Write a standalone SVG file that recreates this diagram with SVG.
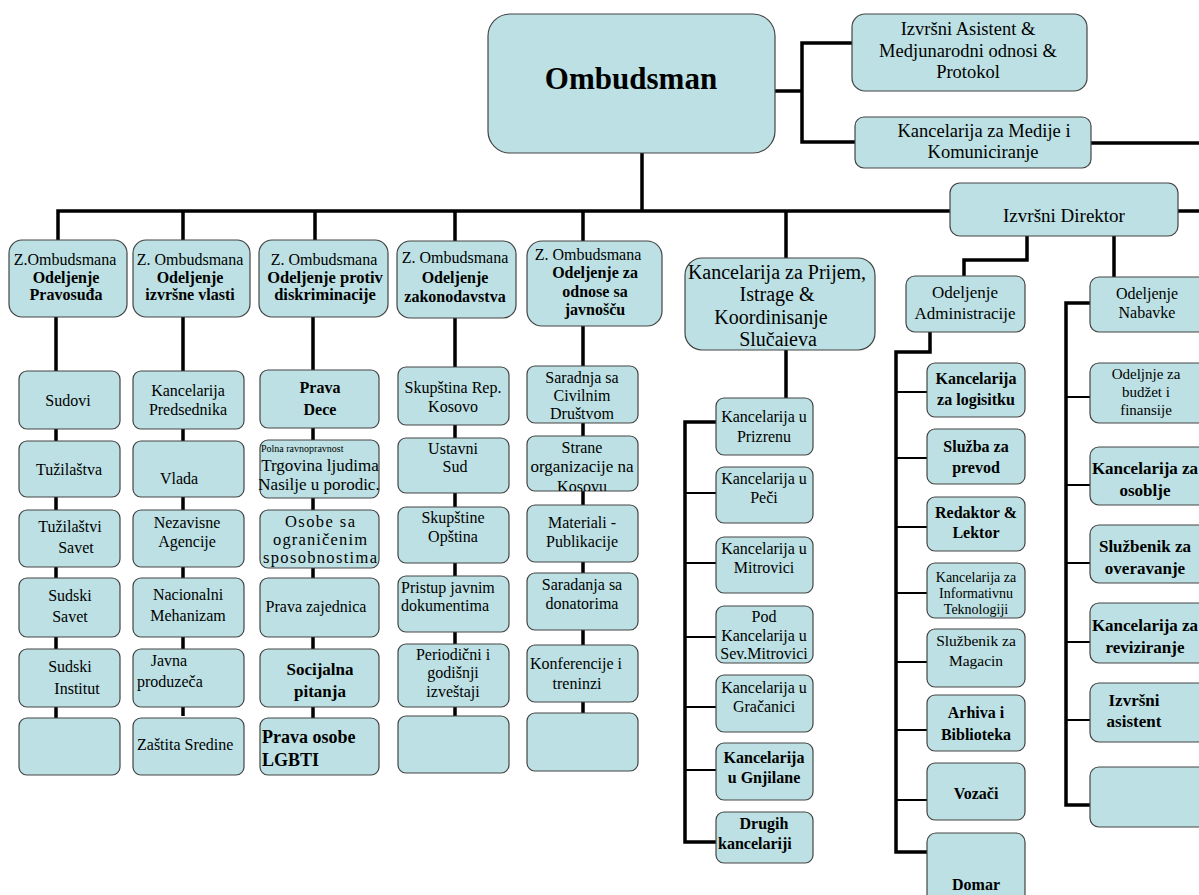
<svg xmlns="http://www.w3.org/2000/svg" width="1199" height="895" viewBox="0 0 1199 895" font-family="'Liberation Serif', 'DejaVu Serif', serif">
<style>
.b{fill:#BCE0E3;stroke:#444;stroke-width:1.2}
text{font-family:'Liberation Serif','DejaVu Serif',serif;font-size:16px;fill:#000;text-anchor:middle}
.bd{font-weight:bold}
.l{text-anchor:start}
.th{fill:none;stroke:#000;stroke-width:3.5}
.tn{fill:none;stroke:#000;stroke-width:1.8}
</style>
<defs>
<clipPath id="c1"><rect x="527" y="436" width="111" height="55"/></clipPath>
</defs>
<g id="connectors">
<path class="th" d="M775 91H802M852 43H802V142H855M1091 143H1199M642 153V211M58 240V211H950M1178 211H1199M183 211V240M315 211V240M455 211V241M583 211V241M786 211V258"/>
<path class="th" d="M56 317V718M183 317V716M313 317V718M455 318V716M583 326V713M786 350V398"/>
<path class="th" d="M716 422H685V842H716"/>
<path class="tn" d="M685 493H716M685 563H716M685 637H716M685 707H716M685 770H716"/>
<path class="th" d="M1027 236V260H964V276M930 332V352H896V852H927"/>
<path class="tn" d="M896 392H927M896 458H927M896 527H927M896 593H927M896 662H927M896 730H927M896 800H927"/>
<path class="th" d="M1114 236V277M1090 303H1066V805H1090"/>
<path class="tn" d="M1066 397H1090M1066 485H1090M1066 563H1090M1066 642H1090M1066 720H1090"/>
</g>
<g id="ombudsman"><rect class="b" x="488" y="14" width="287" height="139" rx="22"/><text x="631" y="89" class="bd" style="font-size:31px">Ombudsman</text></g>
<g id="asistent"><rect class="b" x="852" y="14" width="235" height="77" rx="13"/><text x="968" y="35" style="font-size:18.5px">Izvršni Asistent &amp;</text><text x="968" y="57" style="font-size:18.5px">Medjunarodni odnosi &amp;</text><text x="968" y="78" style="font-size:18.5px">Protokol</text></g>
<g id="medije"><rect class="b" x="855" y="117" width="236" height="51" rx="9"/><text x="984" y="137" style="font-size:18.5px">Kancelarija za Medije i</text><text x="983" y="158" style="font-size:18.5px">Komuniciranje</text></g>
<g id="direktor"><rect class="b" x="950" y="183" width="228" height="53" rx="10"/><text x="1064" y="222" style="font-size:19px">Izvršni Direktor</text></g>

<g id="z1"><rect class="b" x="9" y="240" width="118" height="77" rx="13"/><text x="65" y="265">Z.Ombudsmana</text><text x="66" y="283" class="bd">Odeljenje</text><text x="66" y="300" class="bd">Pravosuđa</text></g>
<g id="z2"><rect class="b" x="133" y="240" width="117" height="77" rx="13"/><text x="190" y="265">Z. Ombudsmana</text><text x="190" y="283" class="bd">Odeljenje</text><text x="190" y="300" class="bd">izvršne vlasti</text></g>
<g id="z3"><rect class="b" x="259" y="240" width="129" height="77" rx="13"/><text x="324" y="265">Z. Ombudsmana</text><text x="325" y="283" class="bd" style="font-size:16.5px">Odeljenje protiv</text><text x="325" y="300" class="bd" style="font-size:16.5px">diskriminacije</text></g>
<g id="z4"><rect class="b" x="397" y="241" width="119" height="77" rx="13"/><text x="455" y="263">Z. Ombudsmana</text><text x="455" y="283" class="bd">Odeljenje</text><text x="455" y="302" class="bd">zakonodavstva</text></g>
<g id="z5"><rect class="b" x="527" y="241" width="135" height="85" rx="15"/><text x="588" y="260">Z. Ombudsmana</text><text x="595" y="278" class="bd">Odeljenje za</text><text x="595" y="297" class="bd">odnose sa</text><text x="595" y="315" class="bd">javnošču</text></g>
<g id="prijem"><rect class="b" x="685" y="258" width="190" height="92" rx="17"/><text x="777" y="279" style="font-size:20px">Kancelarija za Prijem,</text><text x="777" y="301" style="font-size:20px">Istrage &amp;</text><text x="771" y="324" style="font-size:20px">Koordinisanje</text><text x="778" y="346" style="font-size:20px">Slučaieva</text></g>
<g id="admin"><rect class="b" x="906" y="276" width="119" height="56" rx="9"/><text x="965" y="298" style="font-size:17px">Odeljenje</text><text x="965" y="319" style="font-size:17px">Administracije</text></g>
<g id="nabavke"><rect class="b" x="1090" y="277" width="120" height="55" rx="9"/><text x="1147" y="299">Odeljenje</text><text x="1147" y="318">Nabavke</text></g>

<g id="c1-1"><rect class="b" x="19" y="371" width="101" height="58" rx="8"/><text x="68" y="406">Sudovi</text></g>
<g id="c1-2"><rect class="b" x="19" y="441" width="101" height="56" rx="8"/><text x="69" y="475">Tužilaštva</text></g>
<g id="c1-3"><rect class="b" x="19" y="510" width="101" height="57" rx="8"/><text x="70" y="532">Tužilaštvi</text><text x="76" y="553">Savet</text></g>
<g id="c1-4"><rect class="b" x="19" y="578" width="101" height="59" rx="8"/><text x="70" y="601">Sudski</text><text x="70" y="622">Savet</text></g>
<g id="c1-5"><rect class="b" x="19" y="649" width="101" height="58" rx="8"/><text x="70" y="672">Sudski</text><text x="77" y="694">Institut</text></g>
<g id="c1-6"><rect class="b" x="19" y="718" width="101" height="57" rx="8"/></g>

<g id="c2-1"><rect class="b" x="133" y="371" width="111" height="58" rx="8"/><text x="188" y="396">Kancelarija</text><text x="188" y="415">Predsednika</text></g>
<g id="c2-2"><rect class="b" x="133" y="441" width="111" height="56" rx="8"/><text x="179" y="484">Vlada</text></g>
<g id="c2-3"><rect class="b" x="133" y="510" width="111" height="57" rx="8"/><text x="187" y="528">Nezavisne</text><text x="187" y="547">Agencije</text></g>
<g id="c2-4"><rect class="b" x="133" y="578" width="111" height="59" rx="8"/><text x="188" y="600">Nacionalni</text><text x="188" y="621">Mehanizam</text></g>
<g id="c2-5"><rect class="b" x="133" y="649" width="111" height="58" rx="8"/><text x="169" y="666">Javna</text><text x="137" y="687" class="l">produzeča</text></g>
<g id="c2-6"><rect class="b" x="133" y="718" width="111" height="57" rx="8"/><text x="137" y="750" class="l">Zaštita Sredine</text></g>

<g id="c3-1"><rect class="b" x="260" y="370" width="119" height="58" rx="8"/><text x="320" y="393" class="bd">Prava</text><text x="320" y="415" class="bd">Dece</text></g>
<g id="c3-2"><rect class="b" x="260" y="440" width="119" height="58" rx="8"/><text x="261" y="452" class="l" style="font-size:10px">Polna  ravnopravnost</text><text x="320" y="471" style="font-size:17px">Trgovina ljudima</text><text x="319" y="490" style="font-size:17px">Nasilje u porodic.</text></g>
<g id="c3-3"><rect class="b" x="260" y="510" width="119" height="58" rx="8"/><text x="320" y="527" textLength="70" style="font-size:16.5px">Osobe sa</text><text x="320" y="545" textLength="94" style="font-size:16.5px">ograničenim</text><text x="320" y="563" textLength="114" style="font-size:16.5px">sposobnostima</text></g>
<g id="c3-4"><rect class="b" x="260" y="578" width="119" height="59" rx="8"/><text x="316" y="612">Prava  zajednica</text></g>
<g id="c3-5"><rect class="b" x="260" y="649" width="119" height="58" rx="8"/><text x="320" y="675" class="bd" style="font-size:17px">Socijalna</text><text x="320" y="697" class="bd" style="font-size:17px">pitanja</text></g>
<g id="c3-6"><rect class="b" x="260" y="718" width="119" height="57" rx="8"/><text x="262" y="743" class="l bd" style="font-size:18px">Prava osobe</text><text x="262" y="766" class="l bd" style="font-size:18px">LGBTI</text></g>

<g id="c4-1"><rect class="b" x="398" y="367" width="111" height="58" rx="8"/><text x="453" y="393">Skupština Rep.</text><text x="453" y="412">Kosovo</text></g>
<g id="c4-2"><rect class="b" x="398" y="438" width="111" height="55" rx="8"/><text x="453" y="454">Ustavni</text><text x="455" y="472">Sud</text></g>
<g id="c4-3"><rect class="b" x="398" y="507" width="111" height="56" rx="8"/><text x="453" y="523">Skupštine</text><text x="453" y="542">Opština</text></g>
<g id="c4-4"><rect class="b" x="398" y="576" width="111" height="56" rx="8"/><text x="401" y="593" class="l">Pristup javnim</text><text x="401" y="611" class="l">dokumentima</text></g>
<g id="c4-5"><rect class="b" x="398" y="644" width="111" height="63" rx="8"/><text x="453" y="660">Periodični i</text><text x="453" y="678">godišnji</text><text x="453" y="697">izveštaji</text></g>
<g id="c4-6"><rect class="b" x="398" y="716" width="111" height="57" rx="8"/></g>

<g id="c5-1"><rect class="b" x="527" y="366" width="111" height="57" rx="8"/><text x="582" y="383">Saradnja sa</text><text x="582" y="401">Civilnim</text><text x="582" y="419">Društvom</text></g>
<g id="c5-2"><rect class="b" x="527" y="436" width="111" height="55" rx="8"/><text x="582" y="453">Strane</text><text x="582" y="472" style="font-size:17px">organizacije na</text><text x="582" y="492" clip-path="url(#c1)">Kosovu</text></g>
<g id="c5-3"><rect class="b" x="527" y="505" width="111" height="57" rx="8"/><text x="582" y="528">Materiali -</text><text x="582" y="547">Publikacije</text></g>
<g id="c5-4"><rect class="b" x="527" y="573" width="111" height="57" rx="8"/><text x="582" y="590">Saradanja sa</text><text x="582" y="609">donatorima</text></g>
<g id="c5-5"><rect class="b" x="527" y="645" width="111" height="57" rx="8"/><text x="530" y="669" class="l">Konferencije i</text><text x="577" y="689">treninzi</text></g>
<g id="c5-6"><rect class="b" x="527" y="713" width="111" height="58" rx="8"/></g>

<g id="c6-1"><rect class="b" x="716" y="398" width="97" height="57" rx="8"/><text x="764" y="422">Kancelarija u</text><text x="764" y="442">Prizrenu</text></g>
<g id="c6-2"><rect class="b" x="716" y="467" width="97" height="56" rx="8"/><text x="764" y="484">Kancelarija u</text><text x="764" y="503">Peči</text></g>
<g id="c6-3"><rect class="b" x="716" y="537" width="97" height="56" rx="8"/><text x="764" y="554">Kancelarija u</text><text x="764" y="573">Mitrovici</text></g>
<g id="c6-4"><rect class="b" x="716" y="606" width="97" height="57" rx="8"/><text x="764" y="622">Pod</text><text x="764" y="641">Kancelarija u</text><text x="764" y="659">Sev.Mitrovici</text></g>
<g id="c6-5"><rect class="b" x="716" y="675" width="97" height="57" rx="8"/><text x="764" y="693">Kancelarija u</text><text x="764" y="712">Gračanici</text></g>
<g id="c6-6"><rect class="b" x="716" y="743" width="97" height="57" rx="8"/><text x="764" y="763" class="bd">Kancelarija</text><text x="764" y="783" class="bd">u Gnjilane</text></g>
<g id="c6-7"><rect class="b" x="716" y="812" width="97" height="51" rx="8"/><text x="764" y="829" class="bd">Drugih</text><text x="718" y="849" class="l bd">kancelariji</text></g>

<g id="c7-1"><rect class="b" x="927" y="363" width="98" height="54" rx="8"/><text x="976" y="384" class="bd">Kancelarija</text><text x="976" y="405" class="bd">za logisitku</text></g>
<g id="c7-2"><rect class="b" x="927" y="429" width="98" height="55" rx="8"/><text x="976" y="452" class="bd">Služba za</text><text x="976" y="473" class="bd">prevod</text></g>
<g id="c7-3"><rect class="b" x="927" y="497" width="98" height="54" rx="8"/><text x="976" y="518" class="bd">Redaktor &amp;</text><text x="976" y="538" class="bd">Lektor</text></g>
<g id="c7-4"><rect class="b" x="927" y="563" width="98" height="55" rx="8"/><text x="976" y="582" style="font-size:14px">Kancelarija za</text><text x="976" y="598" style="font-size:14px">Informativnu</text><text x="976" y="614" style="font-size:14px">Teknologiji</text></g>
<g id="c7-5"><rect class="b" x="927" y="629" width="98" height="58" rx="8"/><text x="976" y="646" style="font-size:15.5px">Službenik za</text><text x="976" y="666" style="font-size:15.5px">Magacin</text></g>
<g id="c7-6"><rect class="b" x="927" y="695" width="98" height="56" rx="8"/><text x="976" y="718" class="bd">Arhiva i</text><text x="976" y="740" class="bd">Biblioteka</text></g>
<g id="c7-7"><rect class="b" x="927" y="763" width="98" height="57" rx="8"/><text x="976" y="799" class="bd">Vozači</text></g>
<g id="c7-8"><rect class="b" x="927" y="833" width="98" height="70" rx="9"/><text x="976" y="890" class="bd">Domar</text></g>

<g id="c8-1"><rect class="b" x="1090" y="363" width="120" height="60" rx="9"/><text x="1146" y="379" style="font-size:15px">Odeljnje za</text><text x="1146" y="397" style="font-size:15px">budžet i</text><text x="1146" y="415" style="font-size:15px">finansije</text></g>
<g id="c8-2"><rect class="b" x="1090" y="447" width="120" height="58" rx="9"/><text x="1145" y="474" class="bd" style="font-size:17px">Kancelarija za</text><text x="1145" y="496" class="bd" style="font-size:17px">osoblje</text></g>
<g id="c8-3"><rect class="b" x="1090" y="525" width="120" height="58" rx="9"/><text x="1145" y="552" class="bd" style="font-size:17px">Službenik za</text><text x="1145" y="574" class="bd" style="font-size:17px">overavanje</text></g>
<g id="c8-4"><rect class="b" x="1090" y="603" width="120" height="60" rx="9"/><text x="1145" y="631" class="bd" style="font-size:17px">Kancelarija za</text><text x="1145" y="653" class="bd" style="font-size:17px">reviziranje</text></g>
<g id="c8-5"><rect class="b" x="1090" y="683" width="120" height="59" rx="9"/><text x="1134" y="706" class="bd" style="font-size:17px">Izvršni</text><text x="1134" y="727" class="bd" style="font-size:17px">asistent</text></g>
<g id="c8-6"><rect class="b" x="1090" y="767" width="120" height="60" rx="9"/></g>
</svg>
